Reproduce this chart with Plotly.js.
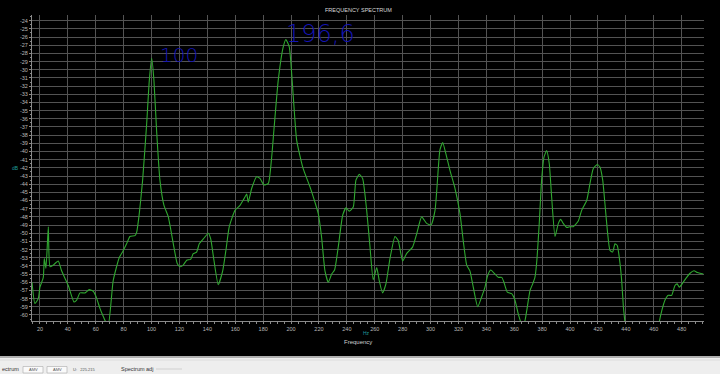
<!DOCTYPE html>
<html>
<head>
<meta charset="utf-8">
<script src="https://cdn.plot.ly/plotly-3.0.1.min.js"></script>
<style>html,body{margin:0;padding:0;background:#000;}#chart{width:720px;height:374px;}</style>
</head>
<body>
<div id="chart"></div>
<script>
// Frequency (Hz) and level (dB)
const freqHz = [14.3,16.4,18.8,20.0,22.4,23.1,24.3,26.0,27.2,29.5,33.1,35.5,40.3,44.4,46.3,48.7,52.3,55.3,58.2,60.1,63.0,65.4,67.3,69.0,72.5,76.8,79.5,82.1,84.5,88.1,89.3,91.2,93.6,96.5,98.4,100.1,101.7,103.6,106.0,108.9,112.0,115.6,118.4,120.4,122.7,125.2,128.0,129.9,132.3,134.2,137.1,140.7,142.4,144.7,147.8,151.0,153.3,155.7,159.8,163.4,166.2,168.2,169.3,171.8,175.3,177.7,180.6,183.7,186.1,187.7,190.8,194.4,196.3,198.7,201.6,204.0,208.5,213.5,217.1,219.5,221.9,224.3,226.7,229.1,231.2,233.8,237.0,239.4,241.7,244.6,246.5,248.9,251.3,254.2,256.6,258.9,261.4,263.2,265.6,268.0,270.9,274.5,276.8,280.0,282.8,287.1,290.0,293.6,297.2,300.3,303.2,304.8,306.7,308.7,311.0,313.9,317.5,321.1,323.4,325.9,328.2,330.6,333.8,336.6,339.0,340.7,343.1,346.2,348.5,351.0,352.6,355.0,358.1,360.5,362.9,365.5,367.5,368.9,371.3,373.2,374.8,376.0,377.9,379.6,381.3,383.2,385.1,386.8,389.2,391.6,393.3,395.1,397.6,399.9,402.3,405.9,408.3,411.9,414.3,416.6,419.5,421.4,423.4,425.0,426.7,428.6,430.5,432.2,433.8,435.8,437.0,438.2,439.4,441.0,452.0,462.0,464.0,465.7,468.0,470.4,472.8,475.2,476.8,478.3,481.1,483.6,486.0,488.8,491.2,493.1,495.5];
const levelDb = [-56.0,-58.6,-58.0,-56.6,-55.4,-53.1,-54.3,-49.2,-54.1,-53.9,-53.4,-54.6,-56.4,-58.4,-58.2,-57.3,-57.3,-56.9,-57.1,-57.7,-59.2,-60.2,-60.9,-61.2,-55.8,-53.0,-52.2,-51.3,-50.4,-50.3,-49.9,-47.6,-43.5,-36.6,-31.3,-28.6,-31.3,-37.4,-43.5,-46.6,-48.0,-51.3,-53.7,-54.1,-53.9,-53.3,-53.2,-52.5,-52.3,-51.3,-50.7,-50.0,-50.7,-53.3,-56.3,-54.6,-52.1,-49.2,-47.2,-46.6,-45.8,-45.2,-46.2,-44.5,-43.1,-43.3,-44.1,-43.9,-40.7,-37.4,-31.3,-27.2,-26.3,-27.2,-33.3,-38.6,-42.0,-44.3,-46.2,-47.6,-50.5,-54.6,-56.0,-55.0,-54.5,-51.7,-47.8,-46.9,-47.3,-46.8,-43.5,-42.8,-43.3,-47.2,-51.7,-55.7,-54.2,-55.8,-57.3,-56.2,-53.1,-50.4,-50.9,-53.4,-52.5,-51.7,-50.1,-48.0,-48.8,-49.0,-47.2,-43.9,-39.8,-38.9,-40.3,-42.3,-44.5,-47.6,-50.9,-53.9,-54.6,-56.6,-59.0,-57.8,-56.6,-55.3,-54.5,-55.0,-55.4,-55.4,-56.0,-57.2,-57.4,-58.2,-59.9,-61.2,-60.8,-59.5,-57.0,-56.2,-55.4,-53.7,-48.8,-43.5,-40.7,-39.9,-41.5,-45.6,-50.4,-48.8,-48.3,-48.8,-49.3,-49.2,-49.2,-48.5,-47.2,-46.0,-43.9,-42.1,-41.6,-41.9,-43.5,-46.4,-49.6,-52.1,-52.3,-51.3,-51.5,-53.7,-55.8,-59.0,-61.0,-63.5,-66.0,-63.0,-60.8,-59.5,-58.2,-57.6,-57.6,-56.4,-56.2,-56.6,-56.0,-55.4,-54.9,-54.6,-54.8,-54.9,-55.0];
const xTickVals = [20,40,60,80,100,120,140,160,180,200,220,240,260,280,300,320,340,360,380,400,420,440,460,480];
const yTickVals = [-24,-25,-26,-27,-28,-29,-30,-31,-32,-33,-34,-35,-36,-37,-38,-39,-40,-41,-42,-43,-44,-45,-46,-47,-48,-49,-50,-51,-52,-53,-54,-55,-56,-57,-58,-59,-60];
const peakNotes = [{f:119.6, db:-28.2, text:"100"}, {f:221.4, db:-25.6, text:"196,6"}];

// layout geometry helpers (pixel -> paper)
const L = 32, R = 704, T = 15, B = 321;
const px = x => (x - L) / (R - L);
const py = y => (B - y) / (B - T);

const trace = {
  x: freqHz, y: levelDb, type: 'scatter', mode: 'lines',
  line: {color: '#30a830', width: 1.1, shape: 'spline', smoothing: 0.5},
  hoverinfo: 'x+y'
};

const FF = 'Liberation Sans, Arial, sans-serif';
const tickFont = {family: FF, size: 5.5, color: '#b8b8b8'};

function note(x, y, text, size, color, xanchor) {
  return {xref:'paper', yref:'paper', x: px(x), y: py(y), text: text, showarrow:false,
          xanchor: xanchor || 'center', yanchor: 'middle',
          font:{family:FF, size:size, color:color}};
}

const annotations = [
  note(358, 10, 'FREQUENCY SPECTRUM', 5.5, '#d8d8d8'),
  note(10, 168, 'dB', 5, '#1f9e9e', 'left'),
  note(366, 332.5, 'Hz', 5, '#1f9e9e'),
  note(358, 342, 'Frequency', 6, '#d0d0d0'),
  // bottom panel texts
  note(0, 369, 'ectrum', 5.5, '#333', 'left'),
  note(33, 369.5, 'AMV', 4, '#555'),
  note(57, 369.5, 'AMV', 4, '#555'),
  note(71, 369.5, 'U:&nbsp;&nbsp;&nbsp;225.215', 4, '#555', 'left'),
  note(119, 369, 'Spectrum adj', 5.5, '#333', 'left')
];
peakNotes.forEach(n => annotations.push({
  xref:'x', yref:'y', x:n.f, y:n.db, text:n.text, showarrow:false, xanchor:'center', yanchor:'middle',
  font:{family:'DejaVu Sans ExtraLight, DejaVu Sans, sans-serif', weight: 200, size: n.text.length > 3 ? 24 : 20, color:'#1414b4'}
}));

const shapes = [
  {type:'rect', xref:'paper', yref:'paper', x0: px(0), x1: px(720), y0: py(356), y1: py(374),
   fillcolor:'#eeeeee', line:{width:0}, layer:'above'},
  {type:'line', xref:'paper', yref:'paper', x0: px(0), x1: px(720), y0: py(357), y1: py(357),
   line:{color:'#9a9a9a', width:1.5}, layer:'above'},
  {type:'line', xref:'paper', yref:'paper', x0: px(0), x1: px(720), y0: py(360), y1: py(360),
   line:{color:'#dcdcdc', width:1}, layer:'above'},
  {type:'rect', xref:'paper', yref:'paper', x0: px(23), x1: px(43), y0: py(366.5), y1: py(373),
   fillcolor:'#fafafa', line:{color:'#aaa', width:0.6}, layer:'above'},
  {type:'rect', xref:'paper', yref:'paper', x0: px(47), x1: px(67), y0: py(366.5), y1: py(373),
   fillcolor:'#fafafa', line:{color:'#aaa', width:0.6}, layer:'above'},
  {type:'line', xref:'paper', yref:'paper', x0: px(156), x1: px(182), y0: py(369), y1: py(369),
   line:{color:'#c8c8c8', width:0.8}, layer:'above'}
];

const layout = {
  width: 720, height: 374,
  paper_bgcolor: '#000000', plot_bgcolor: '#000000',
  margin: {l: L, r: 720 - R, t: T, b: 374 - B, pad: 0},
  showlegend: false,
  xaxis: {
    range: [14.3, 496], tickmode: 'array', tickvals: xTickVals, ticktext: xTickVals.map(String),
    showgrid: true, gridcolor: '#535353', gridwidth: 1,
    zeroline: false, showline: true, linecolor: '#8a8a8a', linewidth: 1,
    ticks: 'outside', ticklen: 2, tickcolor: '#8a8a8a', tickfont: tickFont,
    minor: {dtick: 5, tick0: 0, ticks: 'outside', ticklen: 1.5, tickcolor: '#8a8a8a', showgrid: false}
  },
  yaxis: {
    range: [-60.74, -23.3], tickmode: 'array', tickvals: yTickVals, ticktext: yTickVals.map(String),
    showgrid: true, gridcolor: '#535353', gridwidth: 1,
    zeroline: false, showline: true, linecolor: '#8a8a8a', linewidth: 1,
    ticks: 'outside', ticklen: 2, tickcolor: '#8a8a8a', tickfont: tickFont,
    minor: {dtick: 0.5, tick0: 0, ticks: 'outside', ticklen: 1, tickcolor: '#8a8a8a', showgrid: false}
  },
  annotations: annotations,
  shapes: shapes
};

Plotly.newPlot('chart', [trace], layout, {displayModeBar: false, staticPlot: true});
</script>
</body>
</html>
